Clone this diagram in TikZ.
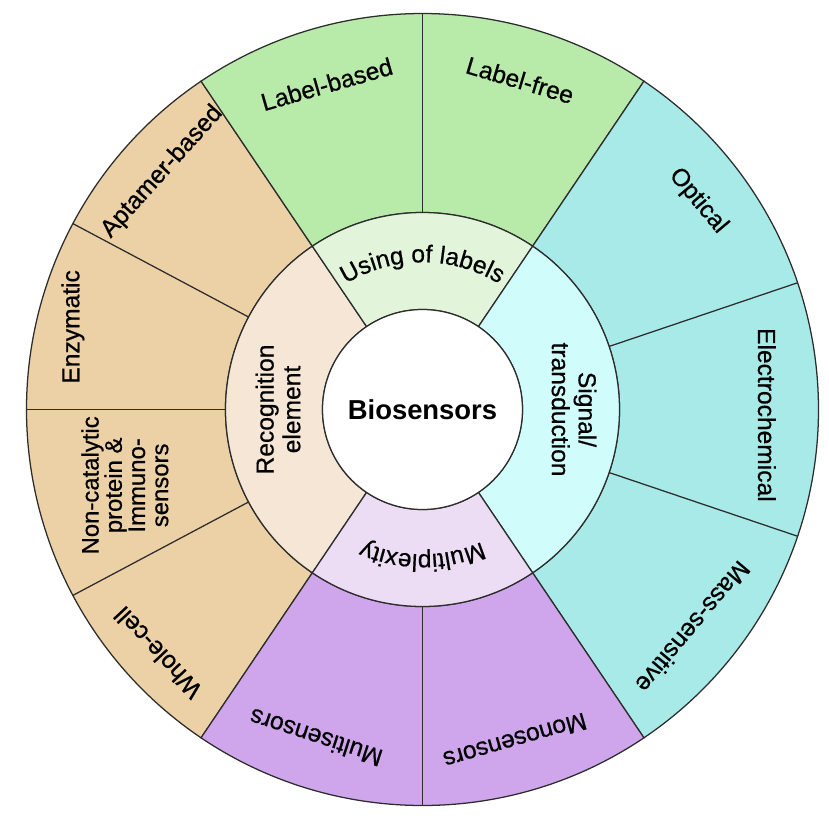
\documentclass[tikz,border=0pt]{standalone}
\usepackage{fontspec}
\setmainfont{Liberation Sans}
\newfontfamily\lblfamily{Liberation Sans}[FakeBold=0.6]
\usetikzlibrary{decorations.text}

\definecolor{linegray}{RGB}{45,45,45}
\definecolor{tanout}{RGB}{236,208,166}
\definecolor{tanin}{RGB}{245,230,214}
\definecolor{greenout}{RGB}{184,234,170}
\definecolor{greenin}{RGB}{226,245,219}
\definecolor{tealout}{RGB}{168,234,232}
\definecolor{tealin}{RGB}{208,252,252}
\definecolor{purpleout}{RGB}{207,166,236}
\definecolor{purplein}{RGB}{236,221,245}

\newcommand{\lblfont}{\lblfamily\fontsize{17.5}{19}\selectfont}
\newcommand{\ringpart}[5]{\filldraw[sector, fill=#1] (#2:#4) -- (#2:#5) arc[start angle=#2, end angle=#3, radius=#5] -- (#3:#4) arc[start angle=#3, end angle=#2, radius=#4] -- cycle;}

\tikzset{
	sector/.style={draw=linegray, line width=0.9pt},
	lbl/.style={font=\lblfont, align=center, inner sep=0pt},
}

\begin{document}
\begin{tikzpicture}
	\useasboundingbox (-10.5625,-10.3625) rectangle (10.1625,10.2375);
	\ringpart{tanout}{124}{236}{4.925}{9.9}
	\ringpart{greenout}{56}{124}{4.925}{9.9}
	\ringpart{tealout}{-56}{56}{4.925}{9.9}
	\ringpart{purpleout}{236}{304}{4.925}{9.9}
	\ringpart{tanin}{124}{236}{2.5}{4.925}
	\ringpart{greenin}{56}{124}{2.5}{4.925}
	\ringpart{tealin}{-56}{56}{2.5}{4.925}
	\ringpart{purplein}{236}{304}{2.5}{4.925}
	\foreach \a in {90,270,152,180,208,18.67,-18.67}
		\draw[sector] (\a:4.925) -- (\a:9.9);
	\node[circle, draw=linegray, line width=0.9pt, fill=white, minimum size=5cm, font=\fontsize{19.5}{22}\bfseries] (bio) at (0,0) {Biosensors};
	\node[lbl, rotate=16] (lbased) at (106.4:8.48) {Label-based};
	\node[lbl, rotate=-16.5] (lfree) at (73.5:8.59) {Label-free};
	\node[lbl, rotate=48] (aptamer) at (137.6:8.81) {Aptamer-based};
	\node[lbl, rotate=90] (enzym) at (166.7:8.98) {Enzymatic};
	\node[lbl, rotate=90, font=\lblfamily\fontsize{17}{16.5}\selectfont] (noncat) at (194.3:7.68) {Non-catalytic\\protein \&\\Immuno-\\sensors};
	\node[lbl, rotate=133] (wcell) at (222.6:8.99) {Whole-cell};
	\node[lbl, rotate=-50] (optical) at (37.1:8.64) {Optical};
	\node[lbl, rotate=-90] (electro) at (-0.9:8.61) {Electrochemical};
	\node[lbl, rotate=-130] (mass) at (-38.8:8.68) {Mass-sensitive};
	\node[lbl, rotate=162] (multi) at (252:8.63) {Multisensors};
	\node[lbl, rotate=196] (mono) at (285.6:8.6) {Monosensors};
	\node[lbl, rotate=90] (recog) at (180:3.61) {Recognition\\element};
	\node[lbl, rotate=-90] (signal) at (0:3.79) {Signal/\\transduction};
	\path[decorate, decoration={text along path, text={|\lblfont|Using of labels}, text align=center}] (125:3.68) arc[start angle=125, end angle=55, radius=3.68];
	\path[decorate, decoration={text along path, text={|\lblfont|Multiplexity}, text align=center}] (-55:3.62) arc[start angle=-55, end angle=-125, radius=3.62];
\end{tikzpicture}
\end{document}
